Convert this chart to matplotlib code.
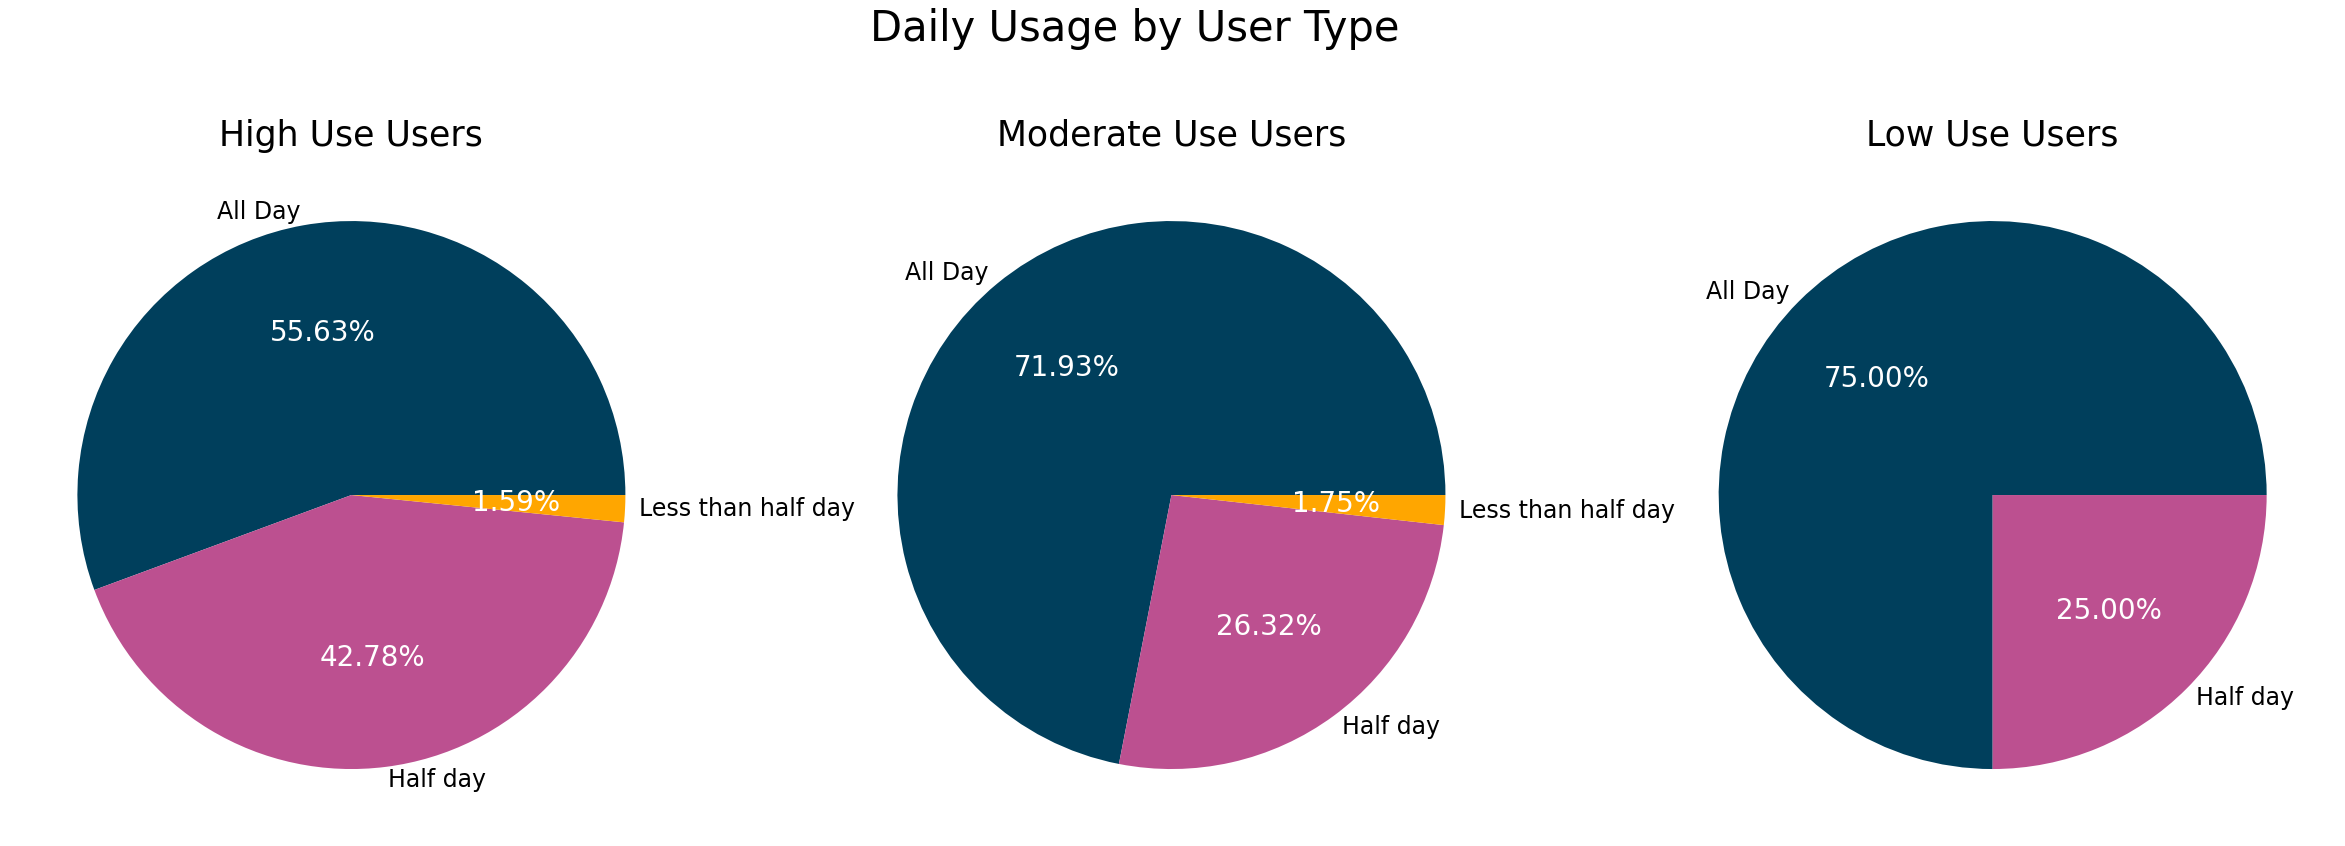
import matplotlib
matplotlib.use("Agg")
import matplotlib.pyplot as plt

# daily usage share per user group
high_labels = ["All Day", "Half day", "Less than half day"]
high_values = [55.63, 42.78, 1.59]

moderate_labels = ["All Day", "Half day", "Less than half day"]
moderate_values = [71.93, 26.32, 1.75]

low_labels = ["All Day", "Half day"]
low_values = [75.00, 25.00]

titles = ["High Use Users", "Moderate Use Users", "Low Use Users"]
colors = ["#003f5c", "#bc5090", "#ffa600"]

fig = plt.figure(figsize=(23.45, 8.46), dpi=100)

lefts = [0.0038, 0.3535, 0.7037]
groups = [(high_labels, high_values),
          (moderate_labels, moderate_values),
          (low_labels, low_values)]

for left, title, (labels, values) in zip(lefts, titles, groups):
    ax = fig.add_axes([left, 0.0100, 0.2921, 0.8097])
    wedges, texts, autotexts = ax.pie(values, labels=labels,
                                      colors=colors[:len(values)],
                                      autopct="%1.2f%%",
                                      labeldistance=1.05,
                                      textprops={"fontsize": 17})
    for t in autotexts:
        t.set_color("white")
        t.set_fontsize(20)
    ax.set_title(title, fontsize=25, pad=4)

fig.suptitle("Daily Usage by User Type", fontsize=30, x=0.484, y=0.966, va="center")

fig.savefig("out.png", dpi=100)
